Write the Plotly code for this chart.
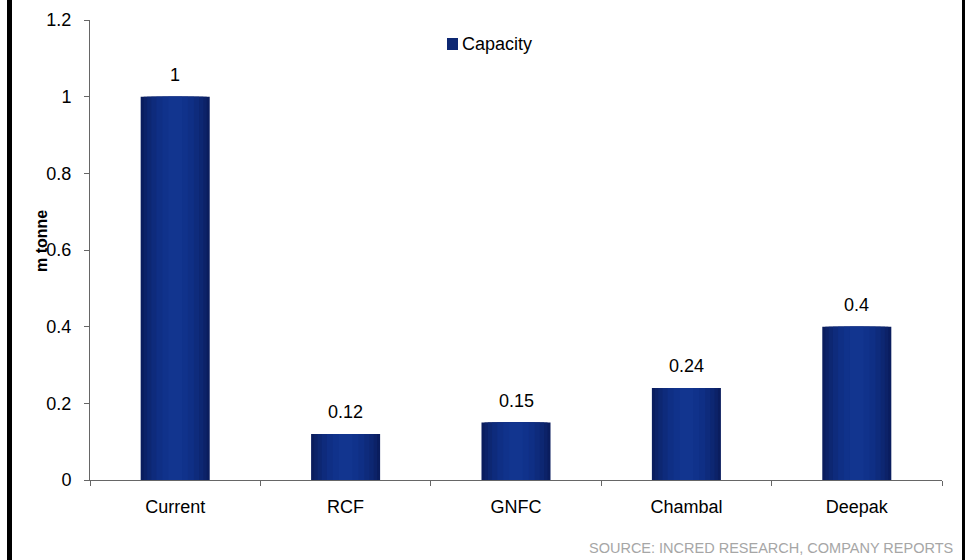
import plotly.graph_objects as go

# Capacity by producer (million tonne)
categories = ["Current", "RCF", "GNFC", "Chambal", "Deepak"]
capacity = [1.0, 0.12, 0.15, 0.24, 0.4]
y_ticks = [0, 0.2, 0.4, 0.6, 0.8, 1.0, 1.2]
series_name = "Capacity"

FONT = "Liberation Sans, Arial, sans-serif"
TEXT_SIZE = 18

# Plot area in pixels (used to place paper-referenced decorations)
L, R, T, B = 90, 29, 20, 80
W, H = 971, 560
PW, PH = W - L - R, H - T - B


def px_x(px):
    return (px - L) / PW


def px_y(py):
    return (H - B - py) / PH


# Horizontal shading on the bars: stacked overlay layers, dark edges to lighter middle
layers = [
    (0.405, "#0a1d5e"),
    (0.37, "#0c2268"),
    (0.33, "#0d2772"),
    (0.28, "#0e2b7c"),
    (0.22, "#0f2f85"),
    (0.15, "#10328b"),
    (0.08, "#12358f"),
]

fig = go.Figure()
for i, (w, c) in enumerate(layers):
    fig.add_trace(go.Bar(
        x=categories, y=capacity, width=w,
        marker=dict(color=c, line=dict(width=0)),
        name=series_name, showlegend=False,
        hoverinfo="skip" if i else None,
    ))

# Value labels above each bar
for cat, v in zip(categories, capacity):
    fig.add_annotation(x=cat, y=v, text=f"{v:g}", showarrow=False,
                       yanchor="middle", yshift=22,
                       font=dict(family=FONT, size=TEXT_SIZE, color="#000"))

# Legend key: small square swatch followed by the series name
fig.add_shape(type="rect", xref="paper", yref="paper",
              x0=px_x(447), x1=px_x(458), y0=px_y(50), y1=px_y(38),
              fillcolor="#0d2772", line=dict(width=0))
fig.add_annotation(xref="paper", yref="paper", x=px_x(460), y=px_y(44),
                   xanchor="left", yanchor="middle", text=series_name,
                   showarrow=False,
                   font=dict(family=FONT, size=TEXT_SIZE, color="#000"))

# Axis title and source note
fig.add_annotation(xref="paper", yref="paper", x=px_x(41), y=px_y(241),
                   xanchor="center", yanchor="middle",
                   text="<b>m tonne</b>", textangle=-90, showarrow=False,
                   font=dict(family=FONT, size=16, color="#000"))
fig.add_annotation(xref="paper", yref="paper", x=px_x(955), y=px_y(548),
                   xanchor="right", yanchor="middle",
                   text="SOURCE: INCRED RESEARCH, COMPANY REPORTS", showarrow=False,
                   font=dict(family=FONT, size=14.5, color="#a6a6a6"))

# Frame edges on left and right
fig.add_shape(type="line", xref="paper", yref="paper",
              x0=px_x(9.5), x1=px_x(9.5), y0=-0.2, y1=1.1,
              line=dict(color="#000", width=5))
fig.add_shape(type="line", xref="paper", yref="paper",
              x0=px_x(963.5), x1=px_x(963.5), y0=-0.2, y1=1.1,
              line=dict(color="#000", width=3))

fig.update_layout(
    width=W, height=H,
    margin=dict(l=L, r=R, t=T, b=B),
    paper_bgcolor="white", plot_bgcolor="white",
    barmode="overlay",
    showlegend=False,
    font=dict(family=FONT, size=TEXT_SIZE, color="#000"),
    xaxis=dict(showline=True, linecolor="#666", linewidth=1,
               ticks="outside", tickson="boundaries", ticklen=5,
               tickcolor="#666", showgrid=False, ticklabelstandoff=10,
               automargin=False),
    yaxis=dict(range=[0, 1.2], tickvals=y_ticks, showline=True,
               linecolor="#666", linewidth=1, ticks="outside", ticklen=5,
               tickcolor="#666", showgrid=False, zeroline=False,
               ticklabelstandoff=9, automargin=False),
)

fig.write_html("out.html")
